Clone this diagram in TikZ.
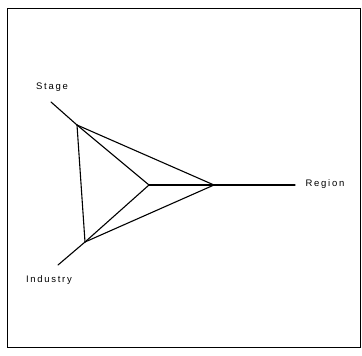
\documentclass[tikz,border=0pt]{standalone}
\usepackage{fontspec}
\setmainfont{Liberation Sans}[LetterSpace=18]
\begin{document}
\begin{tikzpicture}[x=1pt,y=-1pt,
  edge/.style={line width=1.1pt,line cap=round,line join=round},
  lbl/.style={font=\fontsize{9.5}{11}\selectfont,inner sep=0pt}]
\useasboundingbox (0,0) rectangle (362,356);
\draw[line width=1pt] (7.5,8.5) rectangle (360,347);
\coordinate (A) at (77,125);
\coordinate (B) at (85,242);
\coordinate (C) at (149,185);
\coordinate (D) at (214,185);
\coordinate (se) at (51,102);
\coordinate (ie) at (58,265);
\coordinate (re) at (295,185);
\node[lbl] (stage) at (52,87) {Stage};
\node[lbl] (industry) at (49,280) {Industry};
\node[lbl] (region) at (325,184) {Region};
\draw[edge] (se) -- (A);
\draw[edge] (ie) -- (B);
\draw[edge] (D) -- (re);
\draw[edge] (A) -- (D);
\draw[edge] (A) -- (C);
\draw[edge] (A) -- (B);
\draw[edge] (B) -- (C);
\draw[edge] (B) -- (D);
\draw[edge] (C) -- (D);
\end{tikzpicture}
\end{document}
